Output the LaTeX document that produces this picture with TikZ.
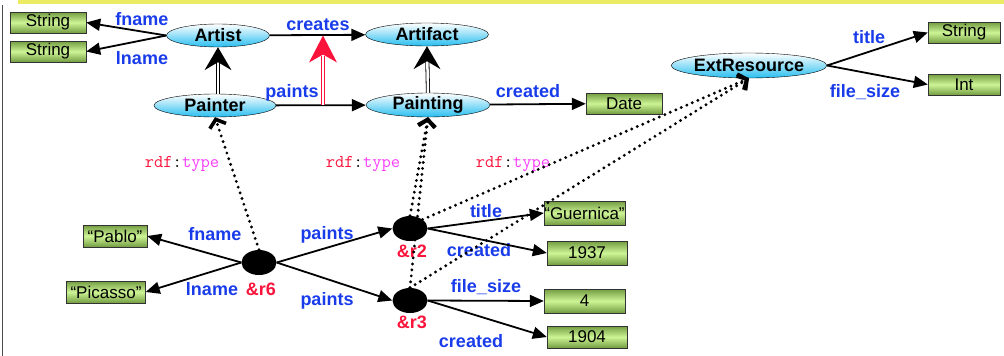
\documentclass[tikz,border=0pt]{standalone}
\usepackage{fontspec}
\setmainfont{Liberation Sans}
\usepackage{xcolor}
\usepackage{tikz}
\usetikzlibrary{positioning, shapes.geometric, arrows.meta}

\definecolor{lblblue}{RGB}{25,60,235}
\definecolor{resred}{RGB}{250,20,60}
\definecolor{typemag}{RGB}{250,60,250}
\definecolor{baryellow}{RGB}{236,236,100}
\definecolor{boxlight}{RGB}{205,245,150}
\definecolor{boxdark}{RGB}{115,155,65}
\definecolor{clscyan}{RGB}{40,190,240}

\newcommand{\rdftype}{\texttt{\textcolor{resred}{rdf}:\textcolor{typemag}{type}}}

\begin{document}
\begin{tikzpicture}[x=1pt, y=-1pt,
    cls/.style={draw, ellipse, inner sep=0pt, top color=white, bottom color=clscyan,
        font=\fontsize{18}{20}\selectfont\bfseries, minimum height=23},
    lit/.style={draw=black!80, rectangle, inner sep=0pt, top color=boxdark, bottom color=boxdark,
        middle color=boxlight, font=\fontsize{17}{19}\selectfont, minimum height=21},
    res/.style={ellipse, fill=black, minimum width=35, minimum height=25, inner sep=0pt},
    lbl/.style={anchor=base, inner sep=0pt, text=lblblue, font=\fontsize{18}{20}\selectfont\bfseries},
    rid/.style={anchor=base, inner sep=0pt, text=resred, font=\fontsize{18}{20}\selectfont\bfseries},
    typ/.style={anchor=base, inner sep=0pt, font=\fontsize{18}{20}\selectfont},
    prop/.style={line width=1.8pt, -{Triangle[length=14pt,width=12pt]}},
    subline/.style={line width=0.8pt, double, double distance=2.5pt, shorten >=14pt},
    typeof/.style={line width=3.2pt, line cap=round, dash pattern=on 0pt off 6pt,
        -{Straight Barb[length=7pt,width=17pt,line width=3.6pt]}}
]
    \useasboundingbox (0,0) rectangle (1004,356);
    \fill[baryellow] (18,0) rectangle (1004,4);
    \draw[black!70, line width=1.2pt] (2.5,5) -- (2.5,356);

    % Nodes
    \node[cls, minimum width=103] (artist) at (218,35.5) {Artist};
    \node[cls, minimum width=123] (artifact) at (427,34.5) {Artifact};
    \node[cls, minimum width=122] (painter) at (215,105.5) {Painter};
    \node[cls, minimum width=124, minimum height=24] (painting) at (428,105) {Painting};
    \node[cls, minimum width=142, minimum height=25] (extres) at (749,65.5) {ExtResource};

    \node[lit, minimum width=76] (strfn) at (48,22.5) {String};
    \node[lit, minimum width=76] (strln) at (48,51.5) {String};
    \node[lit, minimum width=76] (date) at (624,103.5) {Date};
    \node[lit, minimum width=72] (strti) at (964,32.5) {String};
    \node[lit, minimum width=72] (int) at (964,84.5) {Int};

    \node[res] (r6) at (259,262.5) {};
    \node[res] (r2) at (410,228.5) {};
    \node[res] (r3) at (410,300.5) {};

    \node[lit, minimum width=64, minimum height=22] (pablo) at (115,236) {“Pablo”};
    \node[lit, minimum width=79, minimum height=22] (picasso) at (106,292) {“Picasso”};
    \node[lit, minimum width=81, minimum height=24] (guernica) at (584.5,213) {“Guernica”};
    \node[lit, minimum width=80, minimum height=24] (y1937) at (587,253) {1937};
    \node[lit, minimum width=81, minimum height=24] (four) at (584.5,301) {4};
    \node[lit, minimum width=80, minimum height=22] (y1904) at (587,337) {1904};

    % Labels
    \node[lbl] (lfname) at (142,25) {fname};
    \node[lbl] (llname) at (142,64) {lname};
    \node[lbl] (lcreates) at (318,30) {creates};
    \node[lbl] (lpaints) at (292,97) {paints};
    \node[lbl] (lcreated) at (528,97) {created};
    \node[lbl] (ltitle) at (869,43) {title};
    \node[lbl] (lsize) at (865,97) {file\_size};
    \node[typ] (ltype1) at (182,167) {\rdftype};
    \node[typ] (ltype2) at (363,167) {\rdftype};
    \node[typ] (ltype3) at (513,167) {\rdftype};
    \node[lbl] (lfname2) at (215,240) {fname};
    \node[lbl] (llname2) at (212,295) {lname};
    \node[rid] (lr6) at (261,295) {\&r6};
    \node[lbl] (lpaints2) at (327,239) {paints};
    \node[lbl] (lpaints3) at (327,305) {paints};
    \node[lbl] (ltitle2) at (486,217) {title};
    \node[lbl] (lcreated2) at (479,256) {created};
    \node[rid] (lr2) at (412,257) {\&r2};
    \node[lbl] (lsize2) at (486,292) {file\_size};
    \node[rid] (lr3) at (412,328) {\&r3};
    \node[lbl] (lcreated3) at (471,347) {created};

    % Arrows
    \draw[prop] (artist.west) -- (strfn.east);
    \draw[prop] (artist.west) -- (strln.east);
    \draw[prop] (artist) -- (artifact);
    \draw[prop] (painter) -- (painting);
    \draw[prop] (painting) -- (date);
    \draw[prop] (extres.east) -- (strti.west);
    \draw[prop] (extres.east) -- (int.west);

    % subproperty and subclass
    \coordinate (subp) at (323,104.5);
    \coordinate (supp) at (323,35.5);
    \draw[subline, draw=resred, shorten >=20pt] (subp) -- (supp);
    \fill[resred] (supp) -- ++(-14,27) -- ++(14,-8) -- ++(14,8) -- cycle;
    \draw[subline] (painter.north -| artist.south) -- (artist.south);
    \fill (artist.south) -- ++(-13.5,23) -- ++(13.5,-8) -- ++(13.5,8) -- cycle;
    \draw[subline] (painting.north) -- (artifact.south);
    \fill (artifact.south) -- ++(-13.5,23) -- ++(13.5,-8) -- ++(13.5,8) -- cycle;

    % rdf:type
    \draw[typeof] (r6.north) -- (painter.south);
    \draw[typeof] (r2.north) -- (painting.south);
    \draw[typeof] (r3.north) -- (painting.south);
    \draw[typeof] (r2.north east) -- (extres.south);
    \draw[typeof] (r3.north) -- (extres.south);

    \draw[prop] (r6.west) -- (pablo.east);
    \draw[prop] (r6.west) -- (picasso.east);
    \draw[prop] (r6.east) -- (r2.west);
    \draw[prop] (r6.east) -- (r3.west);
    \draw[prop] (r2.east) -- (guernica.west);
    \draw[prop] (r2.east) -- (y1937.west);
    \draw[prop] (r3.east) -- (four.west);
    \draw[prop] (r3.east) -- (y1904.west);
\end{tikzpicture}
\end{document}
